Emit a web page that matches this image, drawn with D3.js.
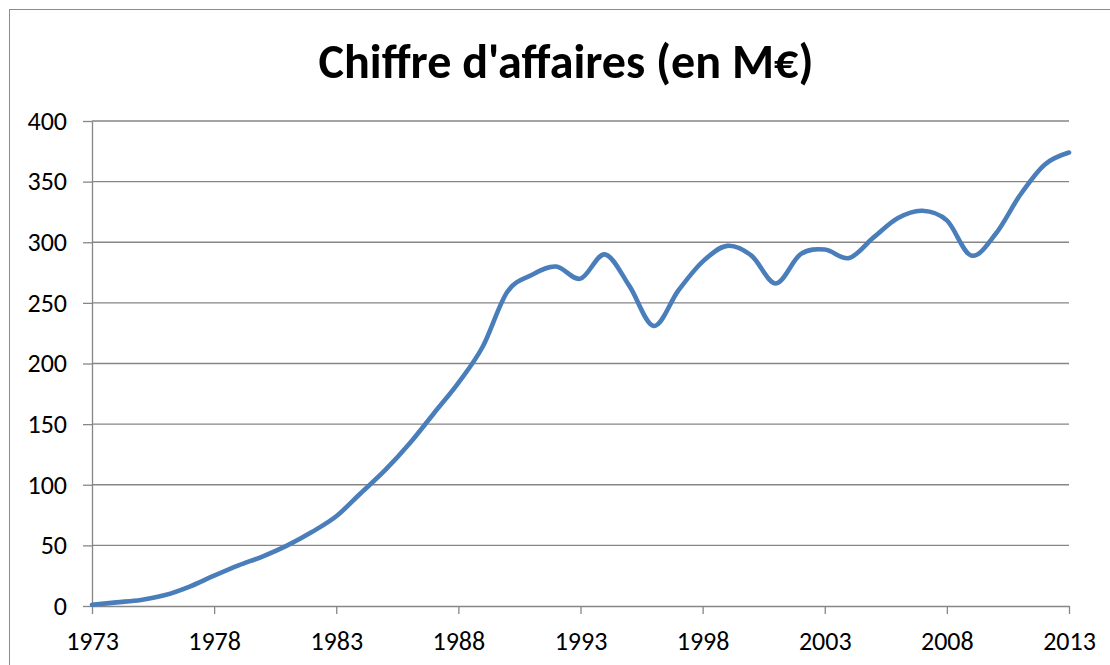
<!DOCTYPE html>
<html>
<head>
<meta charset="utf-8">
<script src="https://cdn.jsdelivr.net/npm/d3@7"></script>
<style>
  html, body { margin: 0; padding: 0; background: #fff; }
  svg { display: block; }
</style>
</head>
<body>
<svg id="chart" width="1110" height="665"></svg>
<script>
// Annual turnover, millions of euros
const years = [
  1973, 1974, 1975, 1976, 1977, 1978, 1979, 1980, 1981, 1982,
  1983, 1984, 1985, 1986, 1987, 1988, 1989, 1990, 1991, 1992,
  1993, 1994, 1995, 1996, 1997, 1998, 1999, 2000, 2001, 2002,
  2003, 2004, 2005, 2006, 2007, 2008, 2009, 2010, 2011, 2012,
  2013
];
const turnover = [
  1, 3, 5, 9, 16, 25, 33.5, 41, 50, 61,
  74, 93, 112, 134, 159, 184, 214, 259, 273, 280,
  270, 290, 264, 231, 260, 284, 297, 289, 266, 290,
  294, 287, 304, 320, 326, 318, 289, 307, 339, 364,
  374
];
const xTicks = [1973, 1978, 1983, 1988, 1993, 1998, 2003, 2008, 2013];
const yTicks = [0, 50, 100, 150, 200, 250, 300, 350, 400];
const chartTitle = "Chiffre d'affaires (en M€)";

const svg = d3.select("#chart");
const font = "Carlito, Calibri, Lato, 'Open Sans', sans-serif";
const gridColor = "#868686";

// Outer chart frame
svg.append("rect")
  .attr("x", 9.5).attr("y", 9.5)
  .attr("width", 1200).attr("height", 700)
  .attr("fill", "#fff")
  .attr("stroke", "#8c8c8c")
  .attr("stroke-width", 1);

const plot = { left: 92, right: 1069, top: 121, bottom: 606 };

const x = d3.scaleLinear().domain([1973, 2013]).range([plot.left, plot.right]);
const y = d3.scaleLinear().domain([0, 400]).range([plot.bottom, plot.top]);

// Horizontal gridlines
svg.append("g")
  .selectAll("line")
  .data(yTicks.filter(d => d > 0))
  .join("line")
  .attr("x1", plot.left).attr("x2", plot.right)
  .attr("y1", d => y(d)).attr("y2", d => y(d))
  .attr("stroke", gridColor)
  .attr("stroke-width", 1.3);

// Y axis
const yAxis = svg.append("g")
  .attr("transform", `translate(${plot.left},0)`)
  .call(d3.axisLeft(y).tickValues(yTicks).tickSize(9).tickSizeOuter(0).tickPadding(16));

// X axis
const xAxis = svg.append("g")
  .attr("transform", `translate(0,${plot.bottom})`)
  .call(d3.axisBottom(x).tickValues(xTicks).tickFormat(d3.format("d"))
    .tickSize(8).tickSizeOuter(0).tickPadding(18));

[yAxis, xAxis].forEach(g => {
  g.selectAll("path.domain").attr("stroke", gridColor).attr("stroke-width", 1.3);
  g.selectAll(".tick line").attr("stroke", gridColor).attr("stroke-width", 1.3);
  g.selectAll(".tick text")
    .attr("fill", "#000")
    .style("font-family", font)
    .style("font-size", "26px");
});

// Turnover line, smoothed
const series = years.map((yr, i) => ({ year: yr, value: turnover[i] }));
const line = d3.line()
  .x(d => x(d.year))
  .y(d => y(d.value))
  .curve(d3.curveCardinal.tension(0));

svg.append("path")
  .datum(series)
  .attr("d", line)
  .attr("fill", "none")
  .attr("stroke", "#4a7ebb")
  .attr("stroke-width", 4.6)
  .attr("stroke-linejoin", "round")
  .attr("stroke-linecap", "round");

// Title, sized to its intended width
const title = svg.append("text")
  .attr("x", 566)
  .attr("y", 78)
  .attr("text-anchor", "middle")
  .attr("fill", "#000")
  .style("font-family", font)
  .style("font-weight", "bold")
  .style("font-size", "44px")
  .text(chartTitle);
const w = title.node().getComputedTextLength();
title.style("font-size", (44 * 495 / w).toFixed(2) + "px");
</script>
</body>
</html>
